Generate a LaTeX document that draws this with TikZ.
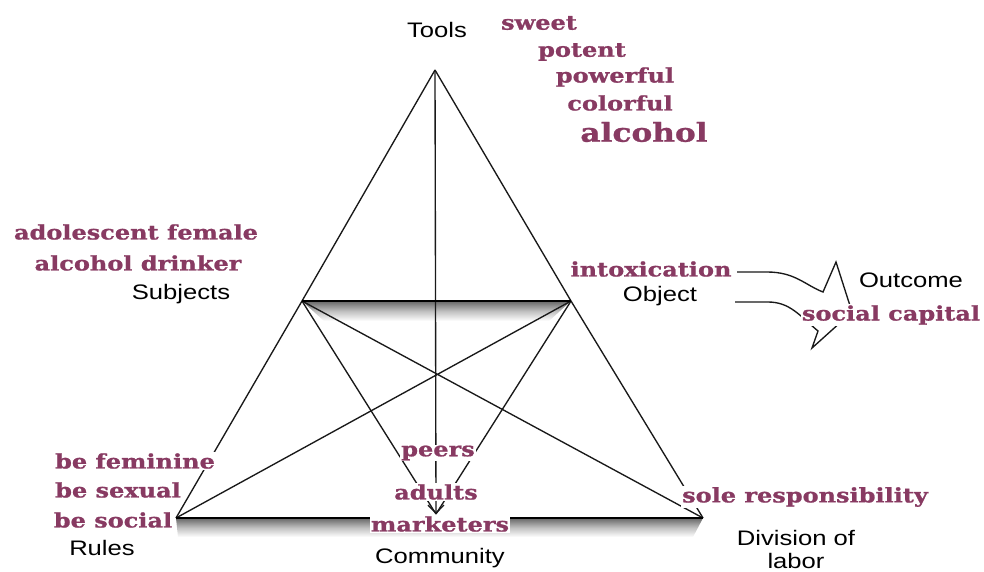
\documentclass[tikz,border=0pt]{standalone}
\usepackage{fontspec}
\setmainfont{Liberation Sans}
\newfontfamily\slabfont{DejaVu Serif}[FakeStretch=1.2, FakeBold=1]
\newfontfamily\rolefont{Liberation Sans}[FakeStretch=1.22]
\usetikzlibrary{arrows.meta,positioning,calc}
\definecolor{Mauve}{RGB}{136,58,98}
\definecolor{LineGray}{RGB}{25,25,25}
\tikzset{
  role/.style={font=\rolefont\fontsize{21}{23}\selectfont, text=black,
               inner sep=1pt, align=center},
  term/.style={font=\slabfont\bfseries\fontsize{20}{22}\selectfont, text=Mauve,
               fill=white, inner sep=1pt},
  edge/.style={draw=LineGray, line width=1.35pt},
  bar/.style={draw=black, line width=1.9pt},
}
\begin{document}
\begin{tikzpicture}[x=1pt, y=-1pt]
\useasboundingbox (0,0) rectangle (984,571);

% corners of the activity system
\coordinate (tools) at (435,70);
\coordinate (subj)  at (302,301);
\coordinate (obj)   at (571,301);
\coordinate (rules) at (176,518);
\coordinate (comm)  at (436,514);
\coordinate (div)   at (703,518);
\coordinate (outA)  at (737,272);
\coordinate (outB)  at (735,302);

% shadows under the two bars
\shade[top color=black!60, bottom color=white, middle color=black!25]
  (subj) -- (obj) -- ($(obj)+(-22,20)$) -- ($(subj)+(22,20)$) -- cycle;
\shade[top color=black!60, bottom color=white, middle color=black!25]
  (rules) -- (div) -- ($(div)+(-10,19)$) -- ($(rules)+(2,19)$) -- cycle;

\draw[edge] (tools) -- (subj) -- (rules);
\draw[edge] (tools) -- (obj) -- (div);
\draw[edge, -{Straight Barb[length=8pt,width=16pt]}] (tools) -- (comm);
\draw[edge] (subj) -- (comm) (obj) -- (comm);
\draw[edge] (subj) -- (div) (obj) -- (rules);
\draw[bar] (subj) -- (obj);
\draw[bar] (rules) -- (div);

% sketched outcome arrow
\draw[edge] (outA) -- ++(30,0) .. controls (795,272) and (805,285) .. (823,292)
  -- (836,262) -- (852,312) -- (812,348) -- (818,331)
  .. controls (800,316) and (790,302) .. (768,302) -- (outB);

% labels
\node[role] (toolsl) at (437,30) {Tools};
\node[term] (sweet) at (539,23) {sweet};
\node[term] (potent) at (582,52) {potent};
\node[term] (powerful) at (615,77) {powerful};
\node[term] (colorful) at (620,103) {colorful};
\node[term, font=\slabfont\bfseries\fontsize{26}{28}\selectfont] (alcohol) at (644,132) {alcohol};

\node[term] (adol) at (136,232) {adolescent female};
\node[term] (drinker) at (138,263) {alcohol drinker};
\node[role] (subjl) at (181,294) {Subjects};

\node[term] (intox) at (651,269) {intoxication};
\node[role] (objl) at (660,296) {Object};
\node[role] (outl) at (911,280) {Outcome};
\node[term] (capital) at (891,315) {social capital};

\node[term] (feminine) at (135,461) {be feminine};
\node[term] (sexual) at (118,490) {be sexual};
\node[term] (social) at (113,520) {be social};
\node[role] (rulesl) at (102,548) {Rules};

\node[term] (peers) at (438,453) {peers};
\node[term] (adults) at (436,492) {adults};
\node[term] (market) at (440,524) {marketers};
\node[role] (comml) at (440,558) {Community};

\node[term] (sole) at (805,497) {sole responsibility};
\node[role] (divl) at (796,549) {Division of\\labor};
\end{tikzpicture}
\end{document}
